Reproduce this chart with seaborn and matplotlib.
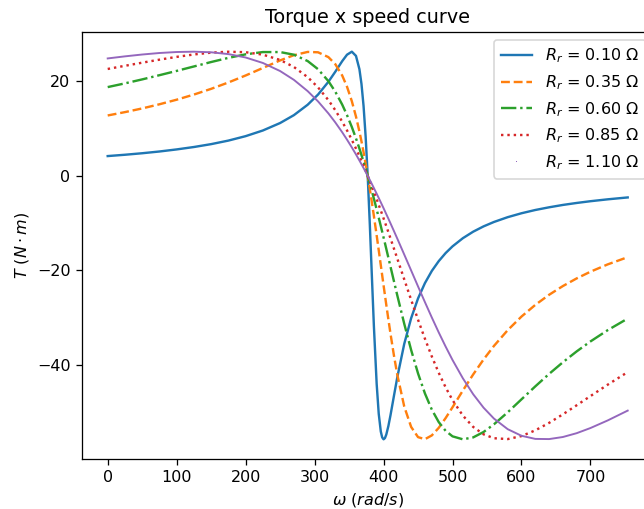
import matplotlib
matplotlib.use("Agg")
import matplotlib.pyplot as plt
import seaborn as sns

# angular speed (rad/s)
omega = [0, 25, 50, 75, 100, 125, 150, 175, 200, 225, 250, 270, 290, 305, 320, 330, 340, 347, 354, 360,
         365, 368, 371, 374, 377, 380, 383, 386, 390, 393, 396, 398, 400, 402, 404, 407, 410, 415, 420, 430,
         440, 450, 460, 470, 480, 490, 500, 515, 530, 545, 560, 580, 600, 620, 640, 660, 680, 700, 725, 754]

rotor_resistance = [0.10, 0.35, 0.60, 0.85, 1.10]

torque_010 = [4.19, 4.47, 4.79, 5.16, 5.6, 6.11, 6.72, 7.47, 8.41, 9.61, 11.19, 12.86, 15.07, 17.22, 19.92, 22.05,
              24.29, 25.66, 26.3, 25.41, 22.59, 19.44, 14.79, 8.35, 0, -10.04, -21.06, -31.91, -44.06, -50.4,
              -54.16, -55.39, -55.8, -55.54, -54.77, -52.98, -50.74, -46.64, -42.6, -35.58, -30.14, -25.96,
              -22.71, -20.13, -18.06, -16.35, -14.93, -13.2, -11.82, -10.7, -9.77, -8.75, -7.92, -7.23, -6.66,
              -6.16, -5.74, -5.37, -4.97, -4.57]
torque_035 = [12.79, 13.5, 14.28, 15.16, 16.13, 17.22, 18.43, 19.78, 21.26, 22.85, 24.45, 25.56, 26.25, 26.17,
              25.15, 23.66, 21.26, 18.88, 15.81, 12.56, 9.39, 7.28, 5.01, 2.58, 0, -2.72, -5.57, -8.52, -12.61,
              -15.75, -18.93, -21.06, -23.18, -25.28, -27.36, -30.42, -33.38, -38.01, -42.18, -48.86, -53.18,
              -55.34, -55.77, -54.97, -53.37, -51.3, -49.01, -45.46, -42.05, -38.89, -36.03, -32.68, -29.8,
              -27.33, -25.19, -23.34, -21.72, -20.3, -18.75, -17.22]
torque_060 = [18.8, 19.59, 20.43, 21.32, 22.23, 23.17, 24.11, 24.99, 25.74, 26.22, 26.22, 25.66, 24.31, 22.59,
              20.06, 17.83, 15.1, 12.86, 10.34, 7.94, 5.78, 4.41, 2.99, 1.52, 0, -1.57, -3.18, -4.84, -7.11,
              -8.86, -10.64, -11.84, -13.05, -14.26, -15.49, -17.34, -19.2, -22.29, -25.37, -31.34, -36.89,
              -41.85, -46.09, -49.52, -52.15, -54.01, -55.17, -55.8, -55.39, -54.25, -52.63, -50.08, -47.33,
              -44.59, -41.95, -39.48, -37.18, -35.07, -32.68, -30.22]
torque_085 = [22.64, 23.31, 23.97, 24.61, 25.2, 25.71, 26.1, 26.29, 26.19, 25.67, 24.55, 23.06, 20.9, 18.74,
              16.04, 13.91, 11.49, 9.63, 7.62, 5.78, 4.17, 3.16, 2.13, 1.08, 0, -1.1, -2.23, -3.38, -4.94, -6.14,
              -7.35, -8.17, -9, -9.83, -10.67, -11.94, -13.22, -15.38, -17.56, -21.93, -26.26, -30.48, -34.5,
              -38.27, -41.71, -44.8, -47.5, -50.78, -53.18, -54.74, -55.57, -55.75, -55.11, -53.9, -52.32,
              -50.51, -48.59, -46.64, -44.23, -41.56]
torque_110 = [24.87, 25.31, 25.7, 26.02, 26.23, 26.3, 26.17, 25.79, 25.07, 23.91, 22.2, 20.33, 17.94, 15.77,
              13.23, 11.32, 9.24, 7.67, 6.02, 4.54, 3.25, 2.46, 1.66, 0.84, 0, -0.85, -1.71, -2.59, -3.78, -4.69,
              -5.61, -6.23, -6.85, -7.48, -8.12, -9.07, -10.04, -11.67, -13.32, -16.67, -20.04, -23.42, -26.75,
              -30.01, -33.16, -36.16, -39, -42.88, -46.26, -49.1, -51.4, -53.65, -55.05, -55.71, -55.75, -55.31,
              -54.5, -53.41, -51.8, -49.72]

torques = [torque_010, torque_035, torque_060, torque_085, torque_110]
styles = ['-', '--', '-.', ':', '-']

dpi = 115
fig = plt.figure(figsize=(644 / dpi, 509 / dpi), dpi=dpi)
ax = fig.add_axes([81.7 / 644, (509 - 458.7) / 509, 572 / 644, (458.7 - 32.3) / 509])

for i, (r2, T) in enumerate(zip(rotor_resistance, torques)):
    lab = r'$R_r$ = %.2f $\Omega$' % r2
    if i < 4:
        sns.lineplot(x=omega, y=T, ax=ax, color=f'C{i}', linestyle=styles[i], lw=1.5, label=lab)
    else:
        sns.lineplot(x=omega, y=T, ax=ax, color=f'C{i}', lw=1.2)
        ax.plot([], [], ',', color=f'C{i}', label=lab)

ax.legend(loc='upper right')
ax.set_title('Torque x speed curve')
ax.set_xlabel(r'$\omega\ (rad/s)$')
ax.set_ylabel(r'$T\ (N \cdot m)$')
fig.savefig('out.png', dpi=dpi)
